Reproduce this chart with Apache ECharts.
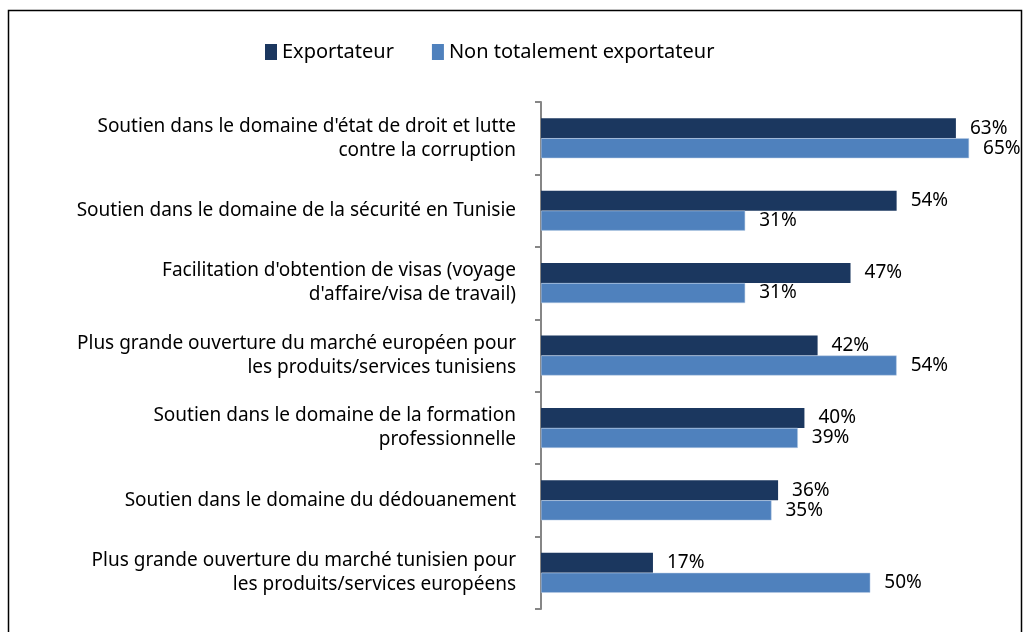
<!DOCTYPE html>
<html><head><meta charset="utf-8">
<script src="https://cdn.jsdelivr.net/npm/echarts@6/dist/echarts.min.js"></script>
<style>html,body{margin:0;padding:0;background:#fff}#c{width:1027px;height:632px}</style>
</head><body><div id="c"></div>
<script>
const categories = [
  "Soutien dans le domaine d'état de droit et lutte\ncontre la corruption",
  "Soutien dans le domaine de la sécurité en Tunisie",
  "Facilitation d'obtention de visas (voyage\nd'affaire/visa de travail)",
  "Plus grande ouverture du marché européen pour\nles produits/services tunisiens",
  "Soutien dans le domaine de la formation\nprofessionnelle",
  "Soutien dans le domaine du dédouanement",
  "Plus grande ouverture du marché tunisien pour\nles produits/services européens"
];
const seriesNames = ["Exportateur", "Non totalement exportateur"];
const exportateur = [63, 54, 47, 42, 40, 36, 17];
const nonTotalement = [65, 31, 31, 54, 39, 35, 50];

const FONT = "Noto Sans";
const chart = echarts.init(document.getElementById('c'));
const lbl = {show:true, position:'right', distance:14, formatter:'{c}%', color:'#000', fontFamily:FONT, fontSize:19};
chart.setOption({
  animation:false,
  graphic:[{type:'rect', shape:{x:8.5,y:10.5,width:1013,height:640}, style:{fill:'none', stroke:'#000', lineWidth:1.5}, silent:true}],
  legend:{top:37, left:260, itemWidth:12, itemHeight:16, itemGap:38, icon:'rect',
    itemStyle:{borderWidth:0},
    textStyle:{fontFamily:FONT, fontSize:20, color:'#000'}, data:seriesNames},
  grid:{left:541, right:25, top:102, bottom:23, containLabel:false},
  xAxis:{type:'value', min:0, max:70, show:false},
  yAxis:{type:'category', inverse:true, data:categories,
    axisLine:{lineStyle:{color:'#868686', width:2}},
    axisTick:{show:true, length:6, lineStyle:{color:'#868686', width:2}},
    axisLabel:{margin:25, fontFamily:FONT, fontSize:19, color:'#000', lineHeight:24, align:'right'}},
  series:[
    {name:seriesNames[0], type:'bar', data:exportateur, barWidth:20, barGap:'0%', barCategoryGap:'45%',
     itemStyle:{color:'#1b375f'}, label:lbl},
    {name:seriesNames[1], type:'bar', data:nonTotalement, barWidth:20,
     itemStyle:{color:'#4f81bd', borderColor:'#b9cde5', borderWidth:0.5}, label:lbl}
  ]
});
</script></body></html>
